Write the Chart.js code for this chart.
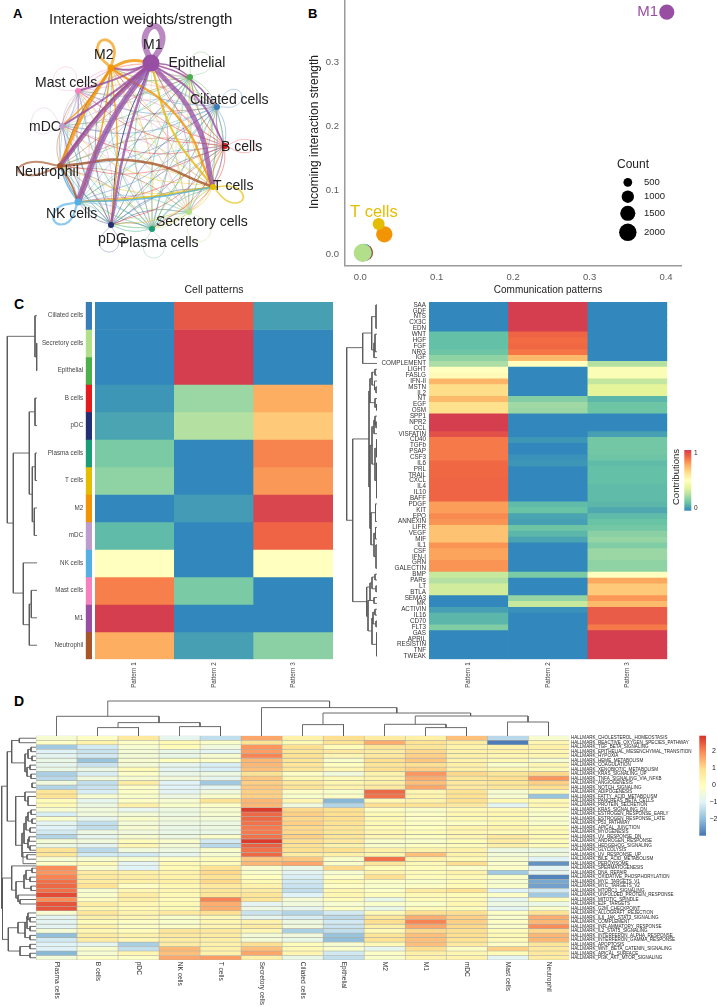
<!DOCTYPE html>
<html><head><meta charset="utf-8">
<style>
html,body{margin:0;padding:0;background:#fff;width:717px;height:1007px;overflow:hidden}
canvas{position:absolute;filter:blur(.35px)}
.tag{position:absolute;font:bold 14px "Liberation Sans",Arial,sans-serif;color:#000}
</style>
<script src="https://cdn.jsdelivr.net/npm/chart.js@4"></script>
</head><body>
<div class="tag" style="left:13px;top:6px;font-size:13px">A</div>
<div class="tag" style="left:308px;top:6px;font-size:13px">B</div>
<div class="tag" style="left:14px;top:296px">C</div>
<div class="tag" style="left:14px;top:693px">D</div>
<script>
// ---------- Panel A: network ----------
const nodeNames=['M1','M2','Mast cells','mDC','Neutrophil','NK cells','pDC','Plasma cells','Secretory cells','T cells','B cells','Ciliated cells','Epithelial'];
const nodeColors=['#984EA3','#F29403','#F781BF','#BC9DCC','#A65628','#54B0E4','#222F75','#1B9E77','#B2DF8A','#E3BE00','#E41A1C','#377EB8','#4DAF4A'];
const nodeX=[151,111,78,62,60,78,111,152,189,213,225,217,190];
const nodeY=[63,68,91,126,166,202,225,229,212,187,146,107,77];
const nodeSize=[8.5,3.5,3,3,3,3.5,3,3,3,3,3,3,3];
const labelX=[143,94,35,29,15,46,98,120,156,213,221,190,168.5];
const labelY=[45,55,83,127,172,214,239,243,222,186,147,100,63];
const loopTipX=[155,103,57,32,18,55,108,155,205,243,256,241,207];
const loopTipY=[26,40,71,118,170,222,252,258,240,199,146,93,54];
const loopWidth=[6,2.8,.6,.6,2,2.2,.6,.5,.8,1.6,.6,.7,.6];
const loopWide=[.2,.24,.35,.35,.13,.24,.3,.3,.3,.2,.18,.25,.3];
// from, to, width, bend
const strongEdges=[[9,5,1.8,.02],[9,0,2,.08],[5,9,1.6,-.03],[5,0,1.4,.05],[5,4,1.5,.05],[6,0,1,.06],[4,1,1.2,.05],[4,5,2,.05],[4,0,2.2,.04],[4,9,2.5,.1],
[1,6,1.3,.04],[1,3,1.5,.05],[1,5,1.5,.04],[1,9,2.2,.12],[1,4,3,-.03],[1,0,3,.12],
[0,12,1.5,.1],[0,11,1.5,.1],[0,10,2,.1],[0,1,2,.1],[0,2,2,.03],[0,3,2,.02],[0,6,2.5,-.03],[0,4,4.5,-.03],[0,5,6,-.05],[0,9,5,.1]];
// ---------- Panel B: scatter ----------
const bubbleNames=['NK cells','B cells','pDC','Ciliated cells','Secretory cells','M2','T cells','M1'];
const outgoing=[.005,.006,.003,.004,.003,.0314,.024,.401];
const incoming=[.003,.002,.001,.002,.002,.0308,.047,.378];
const bubbleCount=[1800,1800,1800,1900,2100,1750,950,1500];
const bubbleColors=['#54B0E4','#A65628','#BC9DCC','#54B0E4','#B2DF8A','#F29403','#E3BE00','#984EA3'];
const legendCounts=[500,1000,1500,2000];
const legendY=[.112,.0895,.0636,.0339];
// ---------- Panel C ----------
const cellRows=['Ciliated cells','Secretory cells','Epithelial','B cells','pDC','Plasma cells','T cells','M2','mDC','NK cells','Mast cells','M1','Neutrophil'];
const cellRowColors=['#377EB8','#B2DF8A','#4DAF4A','#E41A1C','#222F75','#1B9E77','#E3BE00','#F29403','#BC9DCC','#54B0E4','#F781BF','#984EA3','#A65628'];
const patterns=['Pattern 1','Pattern 2','Pattern 3'];
const cellP1=[0,0,0,.03,.06,.16,.2,0,.11,.5,.84,1,.75];
const cellP2=[.93,1,1,.22,.27,0,0,.04,0,0,.16,0,.05];
const cellP3=[.05,0,0,.75,.68,.83,.79,.98,.9,.5,0,0,.19];
const pathways=['SAA','GDF','NTS','CX3C','EDN','WNT','HGF','FGF','NRG','IGF','COMPLEMENT','LIGHT','FASLG','IFN-II','MSTN','IL2','NT','EGF','OSM','SPP1','NPR2','CCL','VISFATIN','CD40','TGFb','PSAP','CSF3','IL6','PRL','TRAIL','CXCL','IL4','IL10','BAFF','PDGF','KIT','EPO','ANNEXIN','LIFR','VEGF','MIF','IL1','CSF','IFN-I','GRN','GALECTIN','BMP','PARs','LT','BTLA','SEMA3','MK','ACTIVIN','IL16','CD70','FLT3','GAS','APRIL','RESISTIN','TNF','TWEAK'];
const commP1=[0,0,0,0,0,.12,.12,.12,.14,.2,.25,.5,.52,.73,.63,.63,.72,.62,.62,1,1,1,.95,.85,.85,.85,.85,.89,.89,.89,.9,.9,.9,.9,.78,.78,.82,.8,.7,.7,.7,.8,.77,.77,.8,.8,.31,.27,.33,.33,0,0,.05,.1,.1,.17,0,0,0,0,0];
const commP2=[1,1,1,1,1,.9,.88,.89,.86,.72,.5,0,0,0,0,0,.18,.23,.22,0,0,0,0,.03,0,0,.02,.03,0,0,0,0,0,0,.11,.13,.06,.05,.14,.1,.06,0,0,0,0,0,.16,0,0,0,.21,.31,.02,0,0,0,0,0,0,0,0];
const commP3=[0,0,0,0,0,0,0,0,0,0,.27,.47,.47,.3,.38,.38,.1,.14,.14,0,0,0,.05,.15,.15,.15,.14,.11,.12,.12,.12,.11,.11,.11,.1,.07,.11,.13,.15,.19,.21,.17,.22,.22,.2,.2,.5,.76,.68,.68,.79,.72,.92,.92,.92,.85,1,1,1,1,1];
// ---------- Panel D ----------
const hallmarks=['CHOLESTEROL_HOMEOSTASIS','REACTIVE_OXYGEN_SPECIES_PATHWAY','TGF_BETA_SIGNALING','EPITHELIAL_MESENCHYMAL_TRANSITION','HYPOXIA','HEME_METABOLISM','COAGULATION','XENOBIOTIC_METABOLISM','KRAS_SIGNALING_UP','TNFA_SIGNALING_VIA_NFKB','ANGIOGENESIS','NOTCH_SIGNALING','ADIPOGENESIS','FATTY_ACID_METABOLISM','PANCREAS_BETA_CELLS','PROTEIN_SECRETION','KRAS_SIGNALING_DN','ESTROGEN_RESPONSE_EARLY','ESTROGEN_RESPONSE_LATE','P53_PATHWAY','APICAL_JUNCTION','MYOGENESIS','UV_RESPONSE_DN','ANDROGEN_RESPONSE','HEDGEHOG_SIGNALING','GLYCOLYSIS','UV_RESPONSE_UP','BILE_ACID_METABOLISM','PEROXISOME','SPERMATOGENESIS','DNA_REPAIR','OXIDATIVE_PHOSPHORYLATION','MYC_TARGETS_V1','MYC_TARGETS_V2','MTORC1_SIGNALING','UNFOLDED_PROTEIN_RESPONSE','MITOTIC_SPINDLE','E2F_TARGETS','G2M_CHECKPOINT','ALLOGRAFT_REJECTION','IL6_JAK_STAT3_SIGNALING','COMPLEMENT','INFLAMMATORY_RESPONSE','IL2_STAT5_SIGNALING','INTERFERON_ALPHA_RESPONSE','INTERFERON_GAMMA_RESPONSE','APOPTOSIS','WNT_BETA_CATENIN_SIGNALING','APICAL_SURFACE','PI3K_AKT_MTOR_SIGNALING'].map(h=>'HALLMARK_'+h);
const hmColumns=['Plasma cells','B cells','pDC','NK cells','T cells','Secretory cells','Ciliated cells','Epithelial','M2','M1','mDC','Mast cells','Neutrophil'];
const hmPlasma=[-.3,-.1,-1.8,-1,-.9,-.7,-.8,-.7,-1.7,-1.5,-.5,-1.6,.8,.9,.1,.2,-.3,-1.1,-.2,-.9,-1,-1.2,-1.6,-.4,-.6,.9,.8,-.3,-.1,2,1.9,2.1,2.3,2.4,2.3,2.7,2,2.6,2.6,-.3,-.9,-.9,-.9,-.4,-2,-1.2,-1,-1,-2.1,-.4];
const hmB=[-.1,.4,-1.2,-1.3,-1.2,-1.9,-1.3,-.7,-1.1,-.5,-1.4,-1.3,-1.1,-.3,-.8,-.6,-.5,-.5,-.8,-1.4,-1.4,-.6,-.8,-.5,-.9,-1.5,-1.2,-.3,.2,-.3,.6,.7,.6,.9,-.3,-.2,-.1,.6,.3,.8,.5,.1,.4,.3,.6,.6,-.8,-.3,-.3,-.1];
const hmPDC=[.7,-.1,-.3,-.4,-.4,-.3,-.4,.2,-.1,-.3,.6,-.1,-.1,-.2,-.1,.5,-.8,-.4,-.2,-.4,-.3,-.5,-.3,.1,.3,-.5,-1.2,-.3,-.9,-1,.5,.6,.5,-.1,.3,.6,.5,.3,.2,.4,.3,-.1,-.1,.1,.4,.3,-1.7,-1.4,.3,-.1];
const hmNK=[-.8,.2,.1,-.7,-.7,0,-.8,-.9,-.7,-.5,-1,-1,-.9,-.6,-.3,-.2,-.6,-.6,-.5,-.6,-.7,-.7,-.6,-.2,-.4,-.6,-.8,-.1,.2,.2,.4,.4,.5,.2,.3,.2,.1,.2,.2,.7,-.2,-.2,-.1,.8,.7,.6,.6,1.5,1.4,1.7];
const hmT=[-1.4,-.2,-.5,-.9,-.3,-.1,-1.1,-1.1,-.6,-.8,-1.8,-.9,-.5,-.2,.9,-.1,-.3,-.3,-.4,-.6,-.6,-.7,-.2,-1.2,-1.5,-.2,-.3,.1,.1,.9,1.1,.9,1.1,.7,.8,.8,2.1,1.6,1.6,1,.2,.3,.3,.7,.6,.5,.4,.5,.4,1.8];
const hmSecretory=[1.7,.9,1.9,1.8,2.1,1.5,1.5,1.4,.9,1.3,1.2,1.3,1.2,1.2,1.5,1.5,2.9,2.4,2.4,2.3,2.2,2.2,2.3,2.9,2.5,2.3,2.4,1.3,1.5,-.3,-.2,0,.2,.4,.6,.8,.8,-.9,-.6,-1.3,-.8,.4,.6,.3,-.4,-.4,1,1.4,1.7,.5];
const hmCiliated=[.4,.2,1,.8,.9,.8,.8,.8,-.1,.3,.7,.9,-.1,-.2,.3,-.5,1.1,1.2,1.1,1.2,1.1,1.1,1.2,1,.9,1,.6,1.3,1.7,-.7,-.9,-1.1,-1.2,-1.3,-1.4,-1,-.4,-.5,-.8,-1.6,-1.1,-.6,-.5,-1.7,-.5,-.7,.1,.2,.3,-.7];
const hmEpithelial=[1,.9,.1,.7,.3,-.2,0,.3,-.5,.2,.3,.4,-.2,-.1,-2.1,-1.6,1,1,1,.9,.8,.8,.8,.7,.4,1,.5,-.2,-.2,1.1,-.3,-.1,.2,-.1,.3,.3,.1,-.3,-.1,-1.2,-1.5,-1.2,-1.3,-1.4,-1.9,-2,-.3,-.2,-1.2,-1.4];
const hmM2=[.6,1.6,.8,.6,.7,1,.8,1,.4,.4,.5,.7,2.4,2.3,.2,1,-.1,.2,.2,.2,.2,.3,.3,-.2,-.2,.5,.3,2.3,.8,.1,.4,1,-.1,-.2,-.1,.1,-.7,-.2,-.7,.2,.8,1,.5,.2,.8,.9,.2,-.8,-.1,-.2];
const hmM1=[.5,.9,.8,1.1,1.2,1.3,1,1.2,1.9,1.6,1.4,1.7,.3,.4,.4,.9,-.2,-.1,-.1,-.1,0,.1,0,-.2,0,.4,1.4,.4,.2,.1,.1,.1,-.2,-.1,.6,.2,.1,-.2,.1,1,1.6,2.1,1.7,1.1,1.4,1.4,1.4,1,.5,.4];
const hmMDC=[1.4,.6,.4,.4,.5,.4,.5,.5,1.1,.8,.7,.7,.9,.9,1,.7,.2,.3,.2,-.1,.4,.3,.3,.1,.1,.4,.4,.2,1,-.2,.4,.2,.1,.1,.9,.1,.2,.3,.1,1,1.2,1.2,1.1,1,1,.9,.7,-.1,.3,.4];
const hmMast=[-1.5,-2.9,.4,.4,.3,.2,-.2,.3,.8,1,.8,.8,-.3,-.3,.2,-.9,.2,.3,.2,.2,.4,.2,.7,.6,.5,-.6,-.4,-.3,-.2,-.1,-1.8,-.2,-.3,-.2,-1,-.1,-.8,-.6,-.9,-.1,-.2,-.1,-.2,.1,.2,.2,-.1,1.2,.1,-.9];
const hmNeutrophil=[-.3,.3,.5,.3,.3,-.3,.3,.2,1.1,1.9,1.2,1,.2,-1.9,.2,.3,-.1,-.2,-.2,-.2,.2,.2,.2,.1,.1,-.7,-.5,-1,-2.6,-.9,-.9,-2.8,-2.3,-2.4,-1.2,-1.8,.1,-.7,-.2,.9,1.6,1.5,2,1.1,1.5,1.5,.8,.7,.7,.6];
const hmTicks=[2,1,0,-1,-2];
// dendrograms: [merge height, position a, height a, position b, height b]
const treeCellRows=[[36.7,1.5,37,2.5,37],[35,.5,37,2,36.7],[35,3.5,37,4.5,37],[35.3,5.5,37,6.5,37],[34.3,7.5,37,8.5,37],[32.3,6,35.3,8,34.3],[29.3,4,35,7,32.3],[31.3,10.5,37,11.5,37],[29.3,11,31.3,12.5,37],[23.3,9.5,37,11.75,29.3],[13.3,5.5,29.3,10.6,23.3],[7.3,1.25,35,8.05,13.3]];
const treeCommRows=[[376,.5,377,4.5,377],[375,5.5,377,8.5,377],[374,7,375,9.5,377],[371.7,2.5,376,8.2,374],[362.7,5.3,371.7,10.5,377],
[375,11.5,377,12.5,377],[376,14.5,377,15.5,377],[374.5,13.5,377,15,376],[372,12,375,14.2,374.5],[376.5,17.5,377,18.5,377],[375,16.5,377,18,376.5],[370,13.1,372,17.2,375],
[376,20.5,377,21.5,377],[375,19.5,377,21,376],[374,20.2,375,22.5,377],[376.5,23.5,377,26.5,377],[376.5,27.5,377,33.5,377],[375,25,376.5,30.5,376.5],[372,21.3,374,27.7,375],
[375.5,34.5,377,37.5,377],[375.5,38.5,377,40.5,377],[376,41.5,377,45.5,377],[374,39.5,375.5,43.5,376],[371,36,375.5,41.5,374],[370,24.5,372,38.7,371],[369,15.2,370,31.6,370],
[375,46.5,377,47.5,377],[376,48.5,377,49.5,377],[372,47,375,49,376],[374,50.5,377,51.5,377],[370,48,372,51,374],[375,52.5,377,53.5,377],[376,54.5,377,55.5,377],[373,53,375,55,376],[376.5,56.5,377,60.5,377],[372,54,373,58.5,376.5],[368,51,370,56.2,372],[366.7,48.7,370,53.7,368],
[352.7,23.4,369,51.2,366.7],[346.7,7.8,362.7,37.3,352.7]];
const treeHallRows=[[19.3,.5,36,1.5,36],[31,2.5,36,3.5,36],[32,4.5,36,5.5,36],[28,3,31,5,32],[30,6.5,36,7.5,36],[31,8.5,36,9.5,36],[32,10.5,36,11.5,36],[27,7,30,9,31],[25,4,28,8,27],[11.7,1,19.3,6,25],
[28,13.5,36,15.5,36],[25,12.5,36,14.5,28],[31,16.5,36,17.5,36],[32,18.5,36,19.5,36],[30,20.5,36,21.5,36],[28,17,31,19,32],[26,18,28,21,30],[29,22.5,36,23.5,36],[30,24.5,36,25.5,36],[28,23,29,25,30],[24,19.5,26,24,28],[27,26.5,36,27.5,36],[22,21.7,24,27,27],[23,28.5,36,26,36],[15.7,13.5,25,24.4,22],[7.3,3.5,11.7,19,15.7],
[32,29.5,36,30.5,36],[30,31.5,36,32.5,36],[26,30,32,32,30],[31,33.5,36,34.5,36],[24,31,26,34,31],[20,36.5,36,37.5,36],[18,35.5,36,37,20],[16,32.5,24,36.2,18],[11.7,29,36,34.4,16],
[30,40.5,36,41.5,36],[28,39.5,36,41,30],[30,42.5,36,43.5,36],[27,40.2,28,43,30],[30,44.5,36,45.5,36],[25,41.6,27,45,30],[18,41.6,25,44,25],[30,46.5,36,47.5,36],[30,48.5,36,49.5,36],[20,47,30,49,30],[8.3,42.8,18,48,20],
[2.5,31.7,11.7,45.4,8.3],[1.7,11.2,7.3,38.5,2.5]];
const treeHallCols=[[8.4,1.5,0,2.5,0],[9.4,3.5,0,4.5,0],[13.4,2,8.4,4,9.4],[19.7,.5,0,3,13.4],[11.4,6.5,0,7.5,0],[8.4,9.5,0,10.5,0],[11.7,8.5,0,10,8.4],[14,11.5,0,12.5,0],[20,9.25,11.7,12,14],[23,7,11.4,10.6,20],[28.4,5.5,0,8.8,23],[35,1.75,19.7,7.16,28.4]];

// ---------- helpers ----------
Chart.defaults.font.family='"Liberation Sans",Arial,sans-serif';
Chart.defaults.animation=false;
Chart.defaults.layout.autoPadding=false;
const pageFont=(s,b)=>(b?'bold ':'')+s+'px "Liberation Sans",Arial,sans-serif';
function mk(box,cfg){
  const c=document.createElement('canvas');
  c.width=box[2];c.height=box[3];
  c.style.left=box[0]+'px';c.style.top=box[1]+'px';c.style.width=box[2]+'px';c.style.height=box[3]+'px';
  document.body.appendChild(c);
  cfg.options=Object.assign({responsive:false,maintainAspectRatio:false,devicePixelRatio:1,animation:false},cfg.options);
  cfg.options.plugins=Object.assign({legend:{display:false},tooltip:{enabled:false},title:{display:false}},cfg.options.plugins||{});
  return new Chart(c,cfg);
}
function hexRgb(h){return [1,3,5].map(i=>parseInt(h.substr(i,2),16));}
function ramp(stops,lo,hi){const S=stops.map(hexRgb);return v=>{
  let t=(Math.min(hi,Math.max(lo,v))-lo)/(hi-lo)*(S.length-1);
  const i=Math.min(S.length-2,Math.floor(t));t-=i;
  return 'rgb('+S[i].map((a,k)=>Math.round(a+(S[i+1][k]-a)*t)).join(',')+')';};}
const spectralStops=['#3288BD','#66C2A5','#ABDDA4','#E6F598','#FFFFBF','#FEE08B','#FDAE61','#F46D43','#D53E4F'];
const rdylbuStops=['#4575B4','#91BFDB','#E0F3F8','#FFFFBF','#FEE090','#FC8D59','#D73027'];
const spectral=ramp(spectralStops,0,1), rdylbu=ramp(rdylbuStops,-3,3);
function textLayer(box,items){return {id:'txt'+Math.random().toString(36).slice(2),afterDraw(ch){const g=ch.ctx;
  items.forEach(t=>{g.save();g.translate(t.x-box[0],t.y-box[1]);if(t.rot)g.rotate(t.rot);g.font=t.font;g.fillStyle=t.color||'#222';g.textAlign=t.align||'left';g.textBaseline='middle';g.fillText(t.text,0,0);g.restore();});}};}
function gradientBar(box,stops,x0,y0,x1,y1){return {id:'bar'+Math.random().toString(36).slice(2),afterDraw(ch){const g=ch.ctx;
  const lg=g.createLinearGradient(0,y0-box[1],0,y1-box[1]);
  stops.forEach((s,i)=>lg.addColorStop(1-i/(stops.length-1),s));
  g.fillStyle=lg;g.fillRect(x0-box[0],y0-box[1],x1-x0,y1-y0);}};}
function heat(o){
  const [l,t,r,b]=o.area,box=o.box,n=o.rows.length;
  const ds=o.rows.map((_,i)=>({data:o.cols.map(()=>[i,i+1]),backgroundColor:o.cols.map((_,c)=>o.fill(o.columns[c][i],i)),
    borderColor:o.edge||'transparent',borderWidth:o.edgeW||0,borderSkipped:false,grouped:false,barPercentage:1,categoryPercentage:1}));
  const yw=o.rowLabels?o.yw:0, xh=o.colLabels?o.xh:0;
  const right=o.yRight;
  mk(box,{type:'bar',data:{labels:o.cols,datasets:ds},plugins:o.plugins||[],options:{
    layout:{padding:{left:l-box[0]-(right?0:yw),right:box[0]+box[2]-r-(right?yw:0),top:t-box[1],bottom:box[1]+box[3]-b-xh}},
    scales:{
      x:{type:'category',offset:true,grid:{display:false,drawTicks:false},border:{display:false},
        afterFit(s){s.height=xh;s.paddingLeft=s.paddingRight=0;},
        ticks:{display:!!o.colLabels,autoSkip:false,minRotation:90,maxRotation:90,padding:3,color:'#444',font:{size:6.3}}},
      y:{type:'linear',min:0,max:n,reverse:true,position:right?'right':'left',grid:{display:false,drawTicks:false},border:{display:false},
        afterBuildTicks(s){s.ticks=o.rows.map((_,i)=>({value:i+.5}));},
        afterFit(s){s.width=yw;s.paddingTop=s.paddingBottom=0;},
        ticks:{display:!!o.rowLabels,autoSkip:false,padding:o.rowPad||3,color:o.rowColor||'#333',font:{size:o.rowSize||6.3},callback:v=>o.rows[Math.floor(v)]}}
    }}});
}
function tree(box,links,sx,sy,horizontal){
  const pts=[];
  links.forEach(([h,a,ha,b,hb])=>{
    if(horizontal)pts.push({x:ha,y:a},{x:h,y:a},{x:h,y:b},{x:hb,y:b},{x:h,y:NaN});
    else pts.push({x:a,y:ha},{x:a,y:h},{x:b,y:h},{x:b,y:hb},{x:b,y:NaN});
  });
  mk(box,{type:'scatter',data:{datasets:[{data:pts,showLine:true,spanGaps:false,borderColor:'#5a5a5a',borderWidth:.9,pointRadius:0,tension:0,clip:false}]},
    options:{layout:{padding:0,autoPadding:false},scales:{
      x:Object.assign({type:'linear',display:false},sx),
      y:Object.assign({type:'linear',display:false},sy)}}});
}
// ---------- Panel A chart ----------
(function(){
  const box=[0,0,300,285],ds=[];
  const edge=(i,j,w,bend,alpha)=>{
    const x0=nodeX[i],y0=nodeY[i],x1=nodeX[j],y1=nodeY[j],dx=x1-x0,dy=y1-y0;
    ds.push({data:[{x:x0,y:y0},{x:(x0+x1)/2+dy*bend,y:(y0+y1)/2-dx*bend},{x:x1,y:y1}],showLine:true,tension:.5,
      borderColor:nodeColors[i]+alpha,borderWidth:w,pointRadius:0,borderCapStyle:'round'});
  };
  const strong=new Set(strongEdges.map(e=>e[0]+'-'+e[1]));
  nodeNames.forEach((_,i)=>nodeNames.forEach((_,j)=>{if(i!==j&&!strong.has(i+'-'+j))edge(i,j,.65,.1,'a0');}));
  nodeNames.forEach((_,i)=>{
    const x=nodeX[i],y=nodeY[i],vx=loopTipX[i]-x,vy=loopTipY[i]-y,k=loopWide[i]*1.2;
    ds.push({data:[{x,y},{x:x+.65*vx+k*vy,y:y+.65*vy-k*vx},{x:loopTipX[i],y:loopTipY[i]},{x:x+.65*vx-k*vy,y:y+.65*vy+k*vx},{x,y}],showLine:true,tension:.5,
      borderColor:nodeColors[i]+(loopWidth[i]>1?'aa':'77'),borderWidth:loopWidth[i],pointRadius:0});
  });
  strongEdges.forEach(e=>edge(e[0],e[1],e[2],e[3],e[2]>3.5?'c0':'cc'));
  ds.push({data:nodeX.map((x,i)=>({x,y:nodeY[i]})),pointRadius:nodeSize,pointBackgroundColor:nodeColors,pointBorderWidth:0,showLine:false});
  ds.reverse(); // Chart.js paints the first dataset last, so nodes go first
  const items=[{text:'Interaction weights/strength',x:49,y:19.5,font:pageFont(15)}]
    .concat(nodeNames.map((n,i)=>({text:n,x:labelX[i],y:labelY[i],font:pageFont(14)})));
  mk(box,{type:'scatter',data:{datasets:ds},plugins:[textLayer(box,items)],options:{layout:{padding:0,autoPadding:false},scales:{
    x:{type:'linear',display:false,min:0,max:300},y:{type:'linear',display:false,min:0,max:285,reverse:true}}}});
})();
// ---------- Panel B chart ----------
(function(){
  const box=[300,0,417,285];
  const rad=c=>Math.sqrt(c)*.195;
  const items=[
    {text:'M1',x:658,y:12,font:pageFont(15),color:'#984EA3',align:'right'},
    {text:'T cells',x:350,y:212,font:pageFont(16.5),color:'#E3BE00'},
    {text:'Count',x:617,y:164.5,font:pageFont(12),color:'#222'},
    {text:'Incoming interaction strength',x:315,y:132,font:pageFont(12),color:'#222',align:'center',rot:-Math.PI/2}
  ].concat(legendCounts.map((c,i)=>({text:String(c),x:644,y:[182.3,196.7,213.3,232.3][i],font:pageFont(9.5),color:'#222'})));
  mk(box,{type:'bubble',data:{datasets:[
    {data:outgoing.map((x,i)=>({x,y:incoming[i],r:rad(bubbleCount[i])})),backgroundColor:bubbleColors,borderWidth:0,clip:false},
    {data:legendCounts.map((c,i)=>({x:.35,y:legendY[i],r:rad(c)})),backgroundColor:'#000',borderWidth:0,clip:false}
  ]},plugins:[textLayer(box,items)],options:{layout:{autoPadding:false,padding:{left:0,right:35.3,top:0,bottom:0}},scales:{
    x:{type:'linear',min:-.02,max:.4205,grid:{display:false,tickLength:3,tickColor:'#666',drawOnChartArea:false},border:{color:'#9a9a9a',width:1.5},
      afterBuildTicks(s){s.ticks=[0,.1,.2,.3,.4].map(value=>({value}));},
      afterFit(s){s.height=19.3;s.paddingLeft=s.paddingRight=0;},
      ticks:{padding:3,color:'#5a5a5a',font:{size:9.5},maxRotation:0,callback:v=>v.toFixed(1)}},
    y:{type:'linear',min:-.0183,max:.397,grid:{display:false,tickLength:3,tickColor:'#666',drawOnChartArea:false},border:{color:'#9a9a9a',width:1.5},
      afterBuildTicks(s){s.ticks=[0,.1,.2,.3].map(value=>({value}));},
      afterFit(s){s.width=45;s.paddingTop=s.paddingBottom=0;},
      ticks:{padding:3,color:'#5a5a5a',font:{size:9.5},callback:v=>v.toFixed(1)}}
  }}});
})();
// ---------- Panel C charts ----------
heat({box:[0,295,95,400],area:[85.7,302,92,659.3],rows:cellRows,cols:[''],columns:[cellRowColors],fill:v=>v,rowLabels:true,yw:46,rowPad:2.5,rowColor:'#444'});
(function(){const box=[90,280,250,410];
heat({box,area:[95,302,333,659.3],rows:cellRows,cols:patterns,columns:[cellP1,cellP2,cellP3],fill:spectral,colLabels:true,xh:30,
  plugins:[textLayer(box,[{text:'Cell patterns',x:214,y:290.5,font:pageFont(10.5),align:'center'}])]});})();
(function(){const box=[340,280,377,410];
heat({box,area:[429,302,667.3,659.3],rows:pathways,cols:patterns,columns:[commP1,commP2,commP3],fill:spectral,rowLabels:true,yw:60,rowPad:3,colLabels:true,xh:30,
  plugins:[gradientBar(box,spectralStops,684.3,450,691.3,510.7),textLayer(box,[
    {text:'Communication patterns',x:548,y:290.5,font:pageFont(10),align:'center'},
    {text:'Contributions',x:676,y:477,font:pageFont(9.5),align:'center',rot:-Math.PI/2},
    {text:'1',x:694,y:453,font:pageFont(6.5)},{text:'0',x:694,y:508,font:pageFont(6.5)}])]});})();
tree([0,302,40,357.3],treeCellRows,{min:0,max:40},{min:0,max:13,reverse:true},true);
tree([340,302,40,357.3],treeCommRows,{min:340,max:380},{min:0,max:61,reverse:true},true);
// ---------- Panel D charts ----------
(function(){const box=[0,690,717,317];
const hmAll=[hmPlasma,hmB,hmPDC,hmNK,hmT,hmSecretory,hmCiliated,hmEpithelial,hmM2,hmM1,hmMDC,hmMast,hmNeutrophil];
const colLab={id:'colLab',afterDraw(ch){const g=ch.ctx,s=ch.scales.x;hmColumns.forEach((t,i)=>{g.save();g.translate(s.getPixelForTick(i),961.7-box[1]);g.rotate(Math.PI/2);
  g.font=pageFont(6.6);g.fillStyle='#333';g.textAlign='left';g.textBaseline='middle';g.fillText(t,0,0);g.restore();});}};
heat({box,area:[36,735.7,569.3,960],rows:hallmarks,cols:hmColumns,columns:hmAll,fill:rdylbu,edge:'#aeaea2',edgeW:.6,rowLabels:true,yRight:true,yw:127,rowSize:4.55,rowPad:1.7,rowColor:'#222',
  plugins:[colLab,gradientBar(box,rdylbuStops,699.3,735.7,706,835.7),textLayer(box,hmTicks.map(v=>({text:v<0?'\u2212'+(-v):String(v),x:v<0?709.5:712,y:785-v*16.8,font:pageFont(7),color:'#222'})))]});})();
tree([0,735.7,40,224.3],treeHallRows,{min:0,max:40},{min:0,max:50,reverse:true},true);
tree([36,695.7,533.3,40],treeHallCols,{min:0,max:13},{min:0,max:40},false);
</script>
</body></html>
